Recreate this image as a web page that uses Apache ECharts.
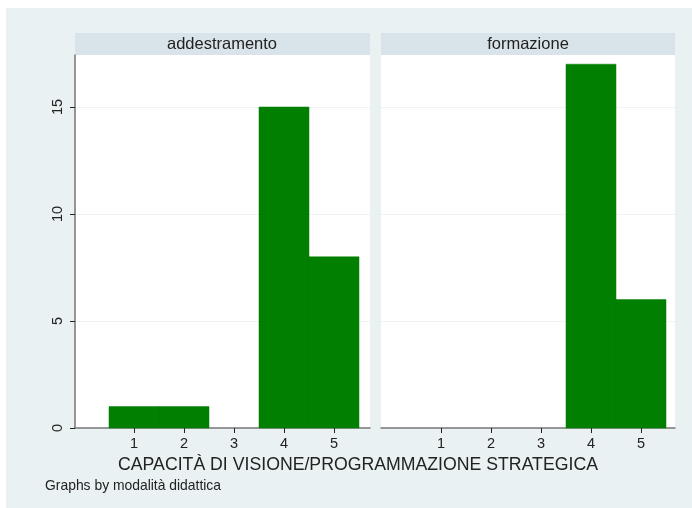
<!DOCTYPE html>
<html>
<head>
<meta charset="utf-8">
<script src="https://cdn.jsdelivr.net/npm/echarts@6/dist/echarts.min.js"></script>
<style>
  html, body { margin: 0; padding: 0; background: #fff; }
  #chart { width: 692px; height: 508px; }
</style>
</head>
<body>
<div id="chart"></div>
<script>
// dati
const bins = [1, 2, 3, 4, 5]
const addestramento = [1, 1, 0, 15, 8]
const formazione = [0, 0, 0, 17, 6]
const panelNames = ['addestramento', 'formazione']
const xTicks = [1, 2, 3, 4, 5]
const yTicks = [0, 5, 10, 15]

const green = '#007f00'
const bg = '#e9f1f3'
const strip = '#d8e4ea'
const axisGray = '#757575'
const fontFam = '"Liberation Sans", Arial, sans-serif'

const chart = echarts.init(document.getElementById('chart'), null, { renderer: 'canvas' })

function barItem (params, api) {
  const x = api.value(0)
  const y = api.value(1)
  if (!y) return null
  const p1 = api.coord([x - 0.5, y])
  const p2 = api.coord([x + 0.5, 0])
  return {
    type: 'rect',
    shape: { x: p1[0], y: p1[1], width: p2[0] - p1[0], height: p2[1] - p1[1] },
    style: { fill: green, stroke: green, lineWidth: 0.5 }
  }
}

function makeX (idx, min, max) {
  return {
    type: 'value',
    gridIndex: idx,
    min: min,
    max: max,
    axisLine: { show: true, onZero: false, lineStyle: { color: axisGray, width: 1.5 } },
    axisTick: { show: true, customValues: xTicks, length: 5, lineStyle: { color: '#222', width: 1 } },
    axisLabel: { customValues: xTicks, color: '#222', fontSize: 14.5, margin: 8, fontFamily: fontFam },
    splitLine: { show: false }
  }
}

function makeY (idx, showAxis) {
  return {
    type: 'value',
    gridIndex: idx,
    min: 0,
    max: 17.43,
    axisLine: { show: showAxis, onZero: false, lineStyle: { color: axisGray, width: 1.5 } },
    axisTick: { show: showAxis, customValues: yTicks, length: 5, lineStyle: { color: '#222' } },
    axisLabel: {
      show: showAxis,
      customValues: yTicks,
      rotate: 90,
      color: '#222',
      fontSize: 14.5,
      margin: 10,
      fontFamily: fontFam
    },
    splitLine: { show: true, customValues: [5, 10, 15], lineStyle: { color: '#eef3f6', width: 1.2 } }
  }
}

const seriesData = [addestramento, formazione].map((vals, i) => ({
  type: 'custom',
  xAxisIndex: i,
  yAxisIndex: i,
  renderItem: barItem,
  data: bins.map((b, j) => [b, vals[j]])
}))

const option = {
  backgroundColor: '#fff',
  animation: false,
  grid: [
    { left: 75, top: 55, width: 295, height: 373, backgroundColor: '#fff', show: true, borderWidth: 0 },
    { left: 381, top: 55, width: 294, height: 373, backgroundColor: '#fff', show: true, borderWidth: 0 }
  ],
  xAxis: [makeX(0, -0.18, 5.72), makeX(1, -0.2, 5.68)],
  yAxis: [makeY(0, true), makeY(1, false)],
  graphic: [
    { type: 'rect', z: -10, shape: { x: 6, y: 8, width: 686, height: 500 }, style: { fill: bg } },
    { type: 'rect', shape: { x: 75, y: 33, width: 295, height: 22 }, style: { fill: strip } },
    { type: 'rect', shape: { x: 381, y: 33, width: 294, height: 22 }, style: { fill: strip } },
    {
      type: 'text', x: 222, y: 44,
      style: { text: panelNames[0], fill: '#222', font: '16.5px ' + fontFam, textAlign: 'center', textVerticalAlign: 'middle' }
    },
    {
      type: 'text', x: 528, y: 44,
      style: { text: panelNames[1], fill: '#222', font: '16.5px ' + fontFam, textAlign: 'center', textVerticalAlign: 'middle' }
    },
    {
      type: 'text', x: 358, y: 465,
      style: { text: 'CAPACITÀ DI VISIONE/PROGRAMMAZIONE STRATEGICA', fill: '#222', font: '17.7px ' + fontFam, textAlign: 'center', textVerticalAlign: 'middle' }
    },
    {
      type: 'text', x: 45, y: 486,
      style: { text: 'Graphs by modalità didattica', fill: '#222', font: '13.9px ' + fontFam, textAlign: 'left', textVerticalAlign: 'middle' }
    }
  ],
  series: seriesData
}

chart.setOption(option)
</script>
</body>
</html>
